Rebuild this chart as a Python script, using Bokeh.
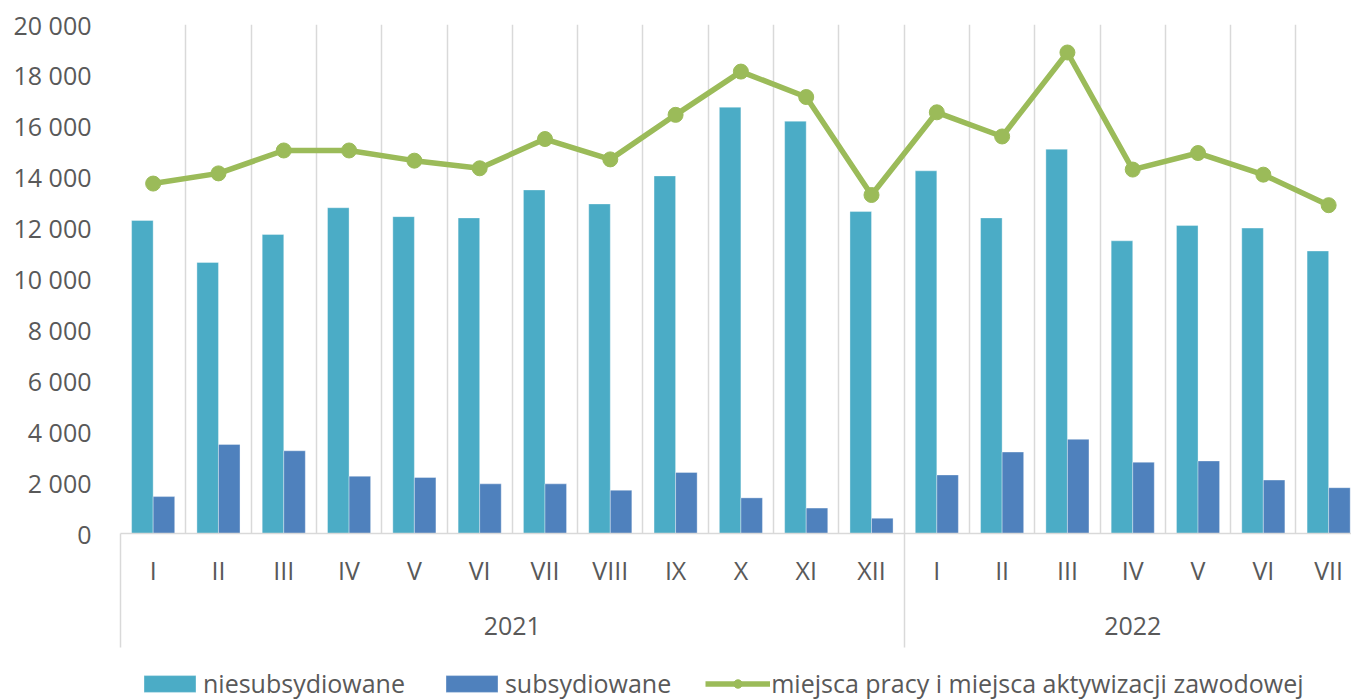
import numpy as np
from bokeh.plotting import figure
from bokeh.layouts import column
from bokeh.models import Range1d, FixedTicker, Legend, LegendItem, LinearAxis, ColumnDataSource
from bokeh.embed import file_html
from bokeh.resources import INLINE

# ---- data ----
months = ["I", "II", "III", "IV", "V", "VI", "VII", "VIII", "IX", "X", "XI", "XII",
          "I", "II", "III", "IV", "V", "VI", "VII"]
years = ["2021", "2022"]
months_per_year = [12, 7]
niesubsydiowane = [12300, 10650, 11750, 12800, 12450, 12400, 13500, 12950, 14050, 16750, 16200, 12650,
                   14250, 12400, 15100, 11500, 12100, 12000, 11100]
subsydiowane = [1450, 3500, 3250, 2250, 2200, 1950, 1950, 1700, 2400, 1400, 1000, 600,
                2300, 3200, 3700, 2800, 2850, 2100, 1800]
miejsca = [13750, 14150, 15050, 15050, 14650, 14350, 15500, 14700, 16450, 18150, 17150, 13300,
           16550, 15600, 18900, 14300, 14950, 14100, 12900]
y_ticks = list(range(0, 20001, 2000))

labels = ["niesubsydiowane", "subsydiowane", "miejsca pracy i miejsca aktywizacji zawodowej"]
colors = ["#4BACC6", "#4F81BD", "#9BBB59"]

TEXT = "#595959"
GRID = "#d9d9d9"
FONT = "Open Sans"
FS = "25px"

n = len(months)
xc = np.arange(n) + 0.5
bw = 0.33
src = ColumnDataSource(dict(
    x=xc, x1=xc - bw / 2, x2=xc + bw / 2,
    nies=niesubsydiowane, subs=subsydiowane, tot=miejsca,
))

bar_style = dict(line_color="white", line_alpha=0.35, line_width=1)
line_style = dict(line_color=colors[2], line_width=5.5)
marker_style = dict(size=15, fill_color=colors[2], line_color=colors[2])

p = figure(width=1351, height=652, output_backend="svg", toolbar_location=None,
           x_range=Range1d(0, 18.85), y_range=Range1d(0, 20000),
           min_border_left=120, min_border_right=0, min_border_top=24, min_border_bottom=119)
p.outline_line_color = None
p.background_fill_color = "white"
p.border_fill_color = "white"

p.vbar(x="x1", top="nies", width=bw, source=src, fill_color=colors[0], **bar_style)
p.vbar(x="x2", top="subs", width=bw, source=src, fill_color=colors[1], **bar_style)
p.line(x="x", y="tot", source=src, **line_style)
p.scatter(x="x", y="tot", source=src, **marker_style)

# grid: vertical lines at category boundaries
p.ygrid.grid_line_color = None
p.xgrid.ticker = FixedTicker(ticks=list(range(0, n + 1)))
p.xgrid.grid_line_color = GRID
p.xgrid.grid_line_width = 1.5

# x axis (months) with long separator ticks at year boundaries
group_starts = np.concatenate([[0], np.cumsum(months_per_year)[:-1]])
xa = p.xaxis[0]
xa.ticker = FixedTicker(ticks=[float(v) for v in xc], minor_ticks=[float(v) for v in group_starts])
xa.major_label_overrides = {float(v): m for v, m in zip(xc, months)}
xa.major_tick_out = 0
xa.major_tick_in = 0
xa.major_tick_line_color = None
xa.minor_tick_out = 114
xa.minor_tick_in = 0
xa.minor_tick_line_color = GRID
xa.minor_tick_line_width = 1.5
xa.axis_line_color = GRID
xa.axis_line_width = 1.5
xa.major_label_standoff = -95
xa.major_label_text_font = FONT
xa.major_label_text_font_size = FS
xa.major_label_text_color = TEXT

# year axis
year_centers = [float(s + c / 2) for s, c in zip(group_starts, months_per_year)]
ya2 = LinearAxis(ticker=FixedTicker(ticks=year_centers, minor_ticks=[]),
                 major_label_overrides={c: y for c, y in zip(year_centers, years)},
                 axis_line_color=None, major_tick_line_color=None, minor_tick_line_color=None,
                 major_tick_out=0, major_tick_in=0, major_label_standoff=27,
                 major_label_text_font=FONT, major_label_text_font_size=FS,
                 major_label_text_color=TEXT)
p.add_layout(ya2, "below")

# y axis
ya = p.yaxis[0]
ya.ticker = FixedTicker(ticks=y_ticks)
ya.major_label_overrides = {t: f"{t:,}".replace(",", " ") for t in y_ticks}
ya.axis_line_color = None
ya.major_tick_line_color = None
ya.minor_tick_line_color = None
ya.major_tick_out = 0
ya.major_tick_in = 0
ya.major_label_standoff = 29
ya.major_label_text_font = FONT
ya.major_label_text_font_size = FS
ya.major_label_text_color = TEXT

# legend strip underneath the chart (same series, ranges chosen so nothing is in view)
lg = figure(width=1351, height=47, output_backend="svg", toolbar_location=None,
            x_range=Range1d(-2, -1), y_range=Range1d(0, 1),
            x_axis_location=None, y_axis_location=None,
            min_border_left=0, min_border_right=0, min_border_top=0, min_border_bottom=0)
lg.outline_line_color = None
lg.grid.visible = False
k1 = lg.vbar(x="x1", top="nies", width=bw, source=src, fill_color=colors[0], **bar_style)
k2 = lg.vbar(x="x2", top="subs", width=bw, source=src, fill_color=colors[1], **bar_style)
k3 = lg.line(x="x", y="tot", source=src, **line_style)
k4 = lg.scatter(x="x", y="tot", source=src, **marker_style)

legend = Legend(items=[
    LegendItem(label=labels[0], renderers=[k1]),
    LegendItem(label=labels[1], renderers=[k2]),
    LegendItem(label=labels[2], renderers=[k3, k4]),
], location=(17, -1), orientation="horizontal", padding=0, margin=0, spacing=34,
    glyph_width=65, glyph_height=21, label_standoff=1,
    label_text_font=FONT, label_text_font_size=FS, label_text_color=TEXT,
    border_line_alpha=0, background_fill_alpha=0)
lg.add_layout(legend, "center")

open("out.html", "w").write(file_html(column(p, lg, spacing=0), INLINE))
